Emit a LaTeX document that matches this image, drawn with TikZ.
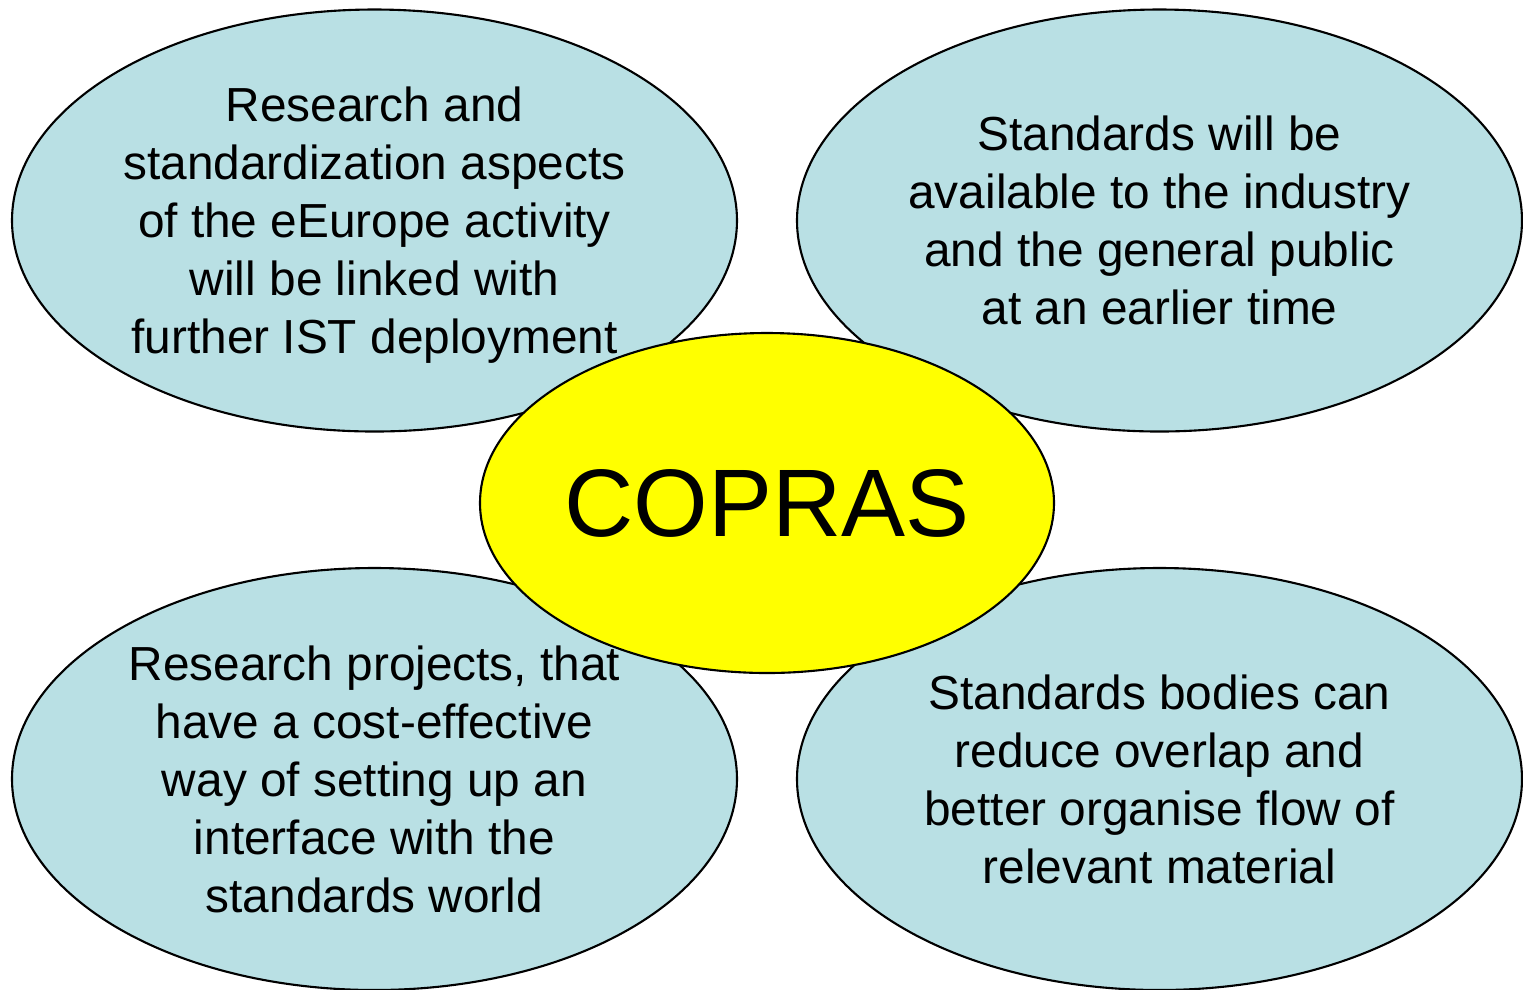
\documentclass[tikz,border=0pt]{standalone}
\usepackage{fontspec}
\setmainfont{Liberation Sans}
\usetikzlibrary{shapes.geometric}
\definecolor{blobblue}{RGB}{185,224,228}
\definecolor{blobyellow}{RGB}{255,255,0}
\begin{document}
\begin{tikzpicture}[
  blob/.style={ellipse, draw=black, line width=0.6pt, fill=blobblue,
    minimum width=7.25cm, minimum height=4.22cm, inner sep=0pt},
  blobtext/.style={align=center, inner sep=0pt,
    font=\fontsize{13.6pt}{16.5pt}\selectfont},
  core/.style={ellipse, draw=black, line width=0.6pt, fill=blobyellow,
    minimum width=5.74cm, minimum height=3.40cm, inner sep=0pt,
    font=\fontsize{27.3pt}{32pt}\selectfont}
]
\useasboundingbox[fill=white] (0,0) rectangle (15.23,-9.89);
\node[blob] (tl) at (3.745,-2.205) {};
\node[blob] (tr) at (11.595,-2.205) {};
\node[blob] (bl) at (3.745,-7.79) {};
\node[blob] (br) at (11.595,-7.79) {};
\node[core] (c) at (7.67,-5.03) {COPRAS};
\node[blobtext, yshift=-0.05cm] (tlt) at (tl.center) {Research and\\standardization aspects\\of the eEurope activity\\will be linked with\\further IST deployment};
\node[blobtext] (trt) at (tr.center) {Standards will be\\available to the industry\\and the general public\\at an earlier time};
\node[blobtext] (blt) at (bl.center) {Research projects, that\\have a cost-effective\\way of setting up an\\interface with the\\standards world};
\node[blobtext] (brt) at (br.center) {Standards bodies can\\reduce overlap and\\better organise flow of\\relevant material};
\end{tikzpicture}
\end{document}
